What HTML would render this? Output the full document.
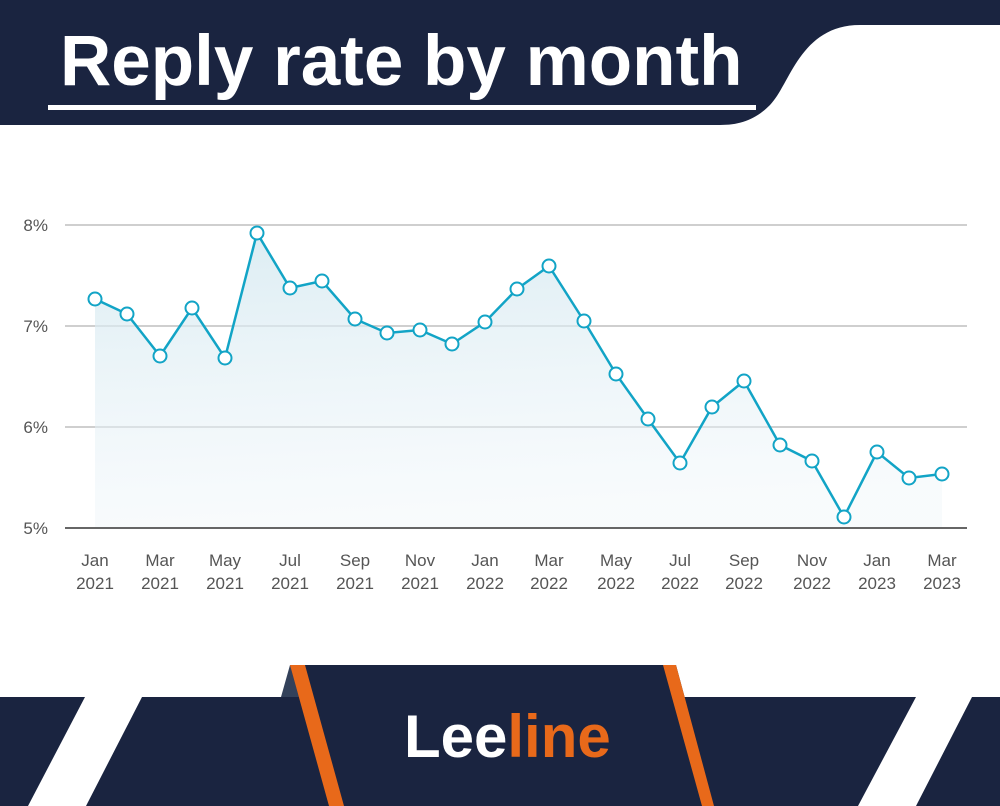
<!DOCTYPE html>
<html><head><meta charset="utf-8"><style>
html,body{margin:0;padding:0;background:#fff}
body{width:1000px;height:806px;overflow:hidden;position:relative;font-family:"Liberation Sans",sans-serif}
</style></head><body>
<svg width="1000" height="806" viewBox="0 0 1000 806" style="position:absolute;left:0;top:0">
<defs>
<linearGradient id="ag" x1="0" y1="0" x2="0.15" y2="1">
<stop offset="0" stop-color="#d3e8f0" stop-opacity="0.8"/>
<stop offset="1" stop-color="#eef5f9" stop-opacity="0.4"/>
</linearGradient>
</defs>
<path d="M0 0 H1000 V25 H860 C800 25 790 85 770 105 C755 120 740 125 720 125 H0 Z" fill="#1a2440"/>
<text x="60" y="85" font-family="Liberation Sans, sans-serif" font-weight="bold" font-size="71" fill="#fff">Reply rate by month</text>
<rect x="48" y="105" width="708" height="5" fill="#fff"/>

<g stroke="#cfcfcf" stroke-width="2">
<line x1="65" y1="225" x2="967" y2="225"/>
<line x1="65" y1="326" x2="967" y2="326"/>
<line x1="65" y1="427" x2="967" y2="427"/>
</g>
<g font-size="17" fill="#555" text-anchor="end">
<text x="48" y="231">8%</text><text x="48" y="332">7%</text><text x="48" y="433">6%</text><text x="48" y="534">5%</text>
</g>
<path d="M95 299 L127 314 L160 356 L192 308 L225 358 L257 233 L290 288 L322 281 L355 319 L387 333 L420 330 L452 344 L485 322 L517 289 L549 266 L584 321 L616 374 L648 419 L680 463 L712 407 L744 381 L780 445 L812 461 L844 517 L877 452 L909 478 L942 474 L942 528 L95 528 Z" fill="url(#ag)"/>
<line x1="65" y1="528" x2="967" y2="528" stroke="#666" stroke-width="2"/>
<polyline points="95,299 127,314 160,356 192,308 225,358 257,233 290,288 322,281 355,319 387,333 420,330 452,344 485,322 517,289 549,266 584,321 616,374 648,419 680,463 712,407 744,381 780,445 812,461 844,517 877,452 909,478 942,474" fill="none" stroke="#12a4c6" stroke-width="2.5"/>
<g fill="#fff" stroke="#12a4c6" stroke-width="2">
<circle cx="95" cy="299" r="6.5"/><circle cx="127" cy="314" r="6.5"/><circle cx="160" cy="356" r="6.5"/><circle cx="192" cy="308" r="6.5"/><circle cx="225" cy="358" r="6.5"/><circle cx="257" cy="233" r="6.5"/><circle cx="290" cy="288" r="6.5"/><circle cx="322" cy="281" r="6.5"/><circle cx="355" cy="319" r="6.5"/><circle cx="387" cy="333" r="6.5"/><circle cx="420" cy="330" r="6.5"/><circle cx="452" cy="344" r="6.5"/><circle cx="485" cy="322" r="6.5"/><circle cx="517" cy="289" r="6.5"/><circle cx="549" cy="266" r="6.5"/><circle cx="584" cy="321" r="6.5"/><circle cx="616" cy="374" r="6.5"/><circle cx="648" cy="419" r="6.5"/><circle cx="680" cy="463" r="6.5"/><circle cx="712" cy="407" r="6.5"/><circle cx="744" cy="381" r="6.5"/><circle cx="780" cy="445" r="6.5"/><circle cx="812" cy="461" r="6.5"/><circle cx="844" cy="517" r="6.5"/><circle cx="877" cy="452" r="6.5"/><circle cx="909" cy="478" r="6.5"/><circle cx="942" cy="474" r="6.5"/>
</g>
<g font-size="17" fill="#555" text-anchor="middle">
<text x="95" y="566">Jan</text><text x="95" y="589">2021</text>
<text x="160" y="566">Mar</text><text x="160" y="589">2021</text>
<text x="225" y="566">May</text><text x="225" y="589">2021</text>
<text x="290" y="566">Jul</text><text x="290" y="589">2021</text>
<text x="355" y="566">Sep</text><text x="355" y="589">2021</text>
<text x="420" y="566">Nov</text><text x="420" y="589">2021</text>
<text x="485" y="566">Jan</text><text x="485" y="589">2022</text>
<text x="549" y="566">Mar</text><text x="549" y="589">2022</text>
<text x="616" y="566">May</text><text x="616" y="589">2022</text>
<text x="680" y="566">Jul</text><text x="680" y="589">2022</text>
<text x="744" y="566">Sep</text><text x="744" y="589">2022</text>
<text x="812" y="566">Nov</text><text x="812" y="589">2022</text>
<text x="877" y="566">Jan</text><text x="877" y="589">2023</text>
<text x="942" y="566">Mar</text><text x="942" y="589">2023</text>
</g>

<rect x="0" y="697" width="1000" height="109" fill="#1a2440"/>
<polygon points="85,697 142,697 86,806 28,806" fill="#fff"/>
<polygon points="916,697 972,697 916,806 858,806" fill="#fff"/>
<polygon points="281,697 290,665 300,697" fill="#33415a"/>
<polygon points="290,665 676,665 714,806 329,806" fill="#1a2440"/>
<polygon points="290,665 305,665 344,806 329,806" fill="#e8691a"/>
<polygon points="663,665 676,665 714,806 702,806" fill="#e8691a"/>
<text x="404" y="757" font-family="Liberation Sans, sans-serif" font-weight="bold" font-size="60"><tspan fill="#fff">Lee</tspan><tspan fill="#e8691a">line</tspan></text>
</svg>
</body></html>
